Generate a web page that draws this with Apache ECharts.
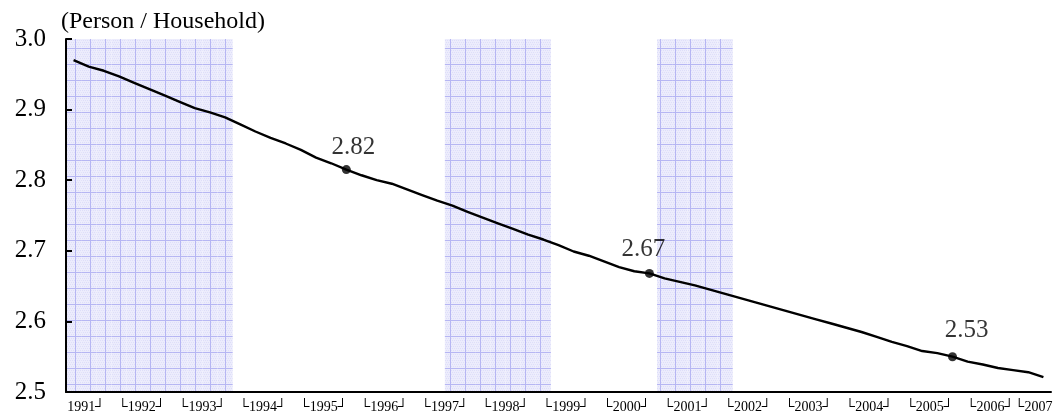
<!DOCTYPE html>
<html>
<head>
<meta charset="utf-8">
<title>Average household size</title>
<script src="https://cdn.jsdelivr.net/npm/echarts@6/dist/echarts.min.js"></script>
<style>
  html, body { margin: 0; padding: 0; background: #fff; }
  #chart { width: 1056px; height: 419px; }
</style>
</head>
<body>
<div id="chart"></div>
<script>
// quarterly, 1991 Q2 .. 2007 Q2
var firstYear = 1991, firstQuarter = 2;
var lastYear = 2007, lastQuarter = 2;

var householdSize = [
    2.970, 2.961, 2.955,
    2.947, 2.938, 2.929, 2.920,
    2.911, 2.902, 2.896, 2.889,
    2.879, 2.869, 2.860, 2.852,
    2.843, 2.832, 2.824, 2.815,
    2.807, 2.800, 2.795, 2.787,
    2.779, 2.771, 2.764, 2.755,
    2.747, 2.739, 2.731, 2.723,
    2.716, 2.708, 2.699, 2.693,
    2.685, 2.677, 2.671, 2.668,
    2.661, 2.656, 2.651, 2.645,
    2.639, 2.633, 2.627, 2.621,
    2.615, 2.609, 2.603, 2.597,
    2.591, 2.585, 2.578, 2.571,
    2.565, 2.558, 2.555, 2.550,
    2.543, 2.539, 2.534, 2.531,
    2.528, 2.521
];

// census points marked on the line, with their own printed values
var censusQuarters = ['1995Q4', '2000Q4', '2005Q4'];
var censusLabels = ['2.82', '2.67', '2.53'];

// shaded periods (first and last quarter)
var recessions = [
    ['1991Q2', '1993Q4'],
    ['1997Q3', '1999Q1'],
    ['2001Q1', '2002Q1']
];

var yTicks = [2.5, 2.6, 2.7, 2.8, 2.9, 3.0];

var quarters = [];
for (var y = firstYear; y <= lastYear; y++) {
    for (var q = 1; q <= 4; q++) {
        if (y === firstYear && q < firstQuarter) continue;
        if (y === lastYear && q > lastQuarter) continue;
        quarters.push(y + 'Q' + q);
    }
}

initchart();

function makePattern() {
    var c = document.createElement('canvas');
    c.width = 15;
    c.height = 16;
    var ctx = c.getContext('2d');
    ctx.fillStyle = '#ececfc';
    ctx.fillRect(0, 0, 15, 16);
    ctx.fillStyle = '#dedef9';
    for (var y = 0; y < 16; y += 2) {
        for (var x = (y / 2) % 2; x < 15; x += 2) {
            ctx.fillRect(x, y, 1, 1);
        }
    }
    ctx.fillStyle = '#b6b6f3';
    ctx.fillRect(0, 0, 15, 1);
    ctx.fillRect(0, 0, 1, 16);
    return c;
}

function initchart() {
    var myChart = echarts.init(document.getElementById('chart'));
    var serif = '"Liberation Serif", "Times New Roman", serif';
    // nudges for the census value labels
    var labelShift = [[7, 0], [-6, -2], [14, -4]];

    var shade = quarters.map(function (name, i) {
        for (var k = 0; k < recessions.length; k++) {
            var a = quarters.indexOf(recessions[k][0]);
            var b = quarters.indexOf(recessions[k][1]);
            if (i >= a && i <= b) return 3.0;
        }
        return '-';
    });

    var census = quarters.map(function (name, i) {
        var k = censusQuarters.indexOf(name);
        if (k < 0) return '-';
        return {value: householdSize[i], label: {formatter: censusLabels[k], offset: labelShift[k]}};
    });

    var option = {
        animation: false,
        title: {
            text: '(Person / Household)',
            left: 56,
            top: 5,
            textStyle: {fontFamily: serif, fontSize: 24, fontWeight: 'normal', color: '#000'}
        },
        grid: {left: 66, right: 5, top: 39, bottom: 27},
        xAxis: {
            type: 'category',
            data: quarters,
            boundaryGap: true,
            z: 5,
            axisLine: {lineStyle: {color: '#000', width: 2}},
            axisTick: {inside: true, length: 4, interval: 0, lineStyle: {color: '#000', width: 1.5}},
            axisLabel: {
                margin: 8,
                interval: function (index, value) {
                    var q = value.slice(5);
                    return index === 1 || index === quarters.length - 1 ||
                        (q === '3' && index > 2 && index < quarters.length - 2);
                },
                formatter: function (value, index) {
                    var year = value.slice(0, 4);
                    if (index === 1) return '{f|' + year + '\u2518}';
                    if (index === quarters.length - 1) return '{l|\u2514' + year + '}';
                    return '{y|\u2514' + year + '\u2518}';
                },
                rich: {
                    y: {fontFamily: serif, fontSize: 14, color: '#000', padding: [0, 15, 0, 0]},
                    f: {fontFamily: serif, fontSize: 14, color: '#000', padding: [0, 5, 0, 0]},
                    l: {fontFamily: serif, fontSize: 14, color: '#000', padding: [0, 20, 0, 0]}
                }
            },
            splitLine: {show: false}
        },
        yAxis: {
            type: 'value',
            min: yTicks[0],
            max: yTicks[yTicks.length - 1],
            interval: 0.1,
            z: 5,
            axisLine: {show: true, lineStyle: {color: '#000', width: 2}},
            axisTick: {show: true, inside: true, length: 6, lineStyle: {color: '#000', width: 2}},
            axisLabel: {
                margin: 20,
                fontFamily: serif,
                fontSize: 25,
                color: '#000',
                formatter: function (v) { return v.toFixed(1); }
            },
            splitLine: {show: false}
        },
        series: [
            {
                type: 'bar',
                data: shade,
                barCategoryGap: '0%',
                silent: true,
                z: 1,
                itemStyle: {color: {image: makePattern(), repeat: 'repeat'}}
            },
            {
                type: 'line',
                data: householdSize,
                symbol: 'none',
                z: 3,
                lineStyle: {color: '#000', width: 2.4}
            },
            {
                type: 'scatter',
                data: census,
                symbolSize: 9,
                z: 4,
                itemStyle: {color: '#000'},
                label: {
                    show: true,
                    position: 'top',
                    distance: 5,
                    fontFamily: serif,
                    fontSize: 25,
                    color: '#000'
                }
            }
        ]
    };
    myChart.setOption(option);
}
</script>
</body>
</html>
